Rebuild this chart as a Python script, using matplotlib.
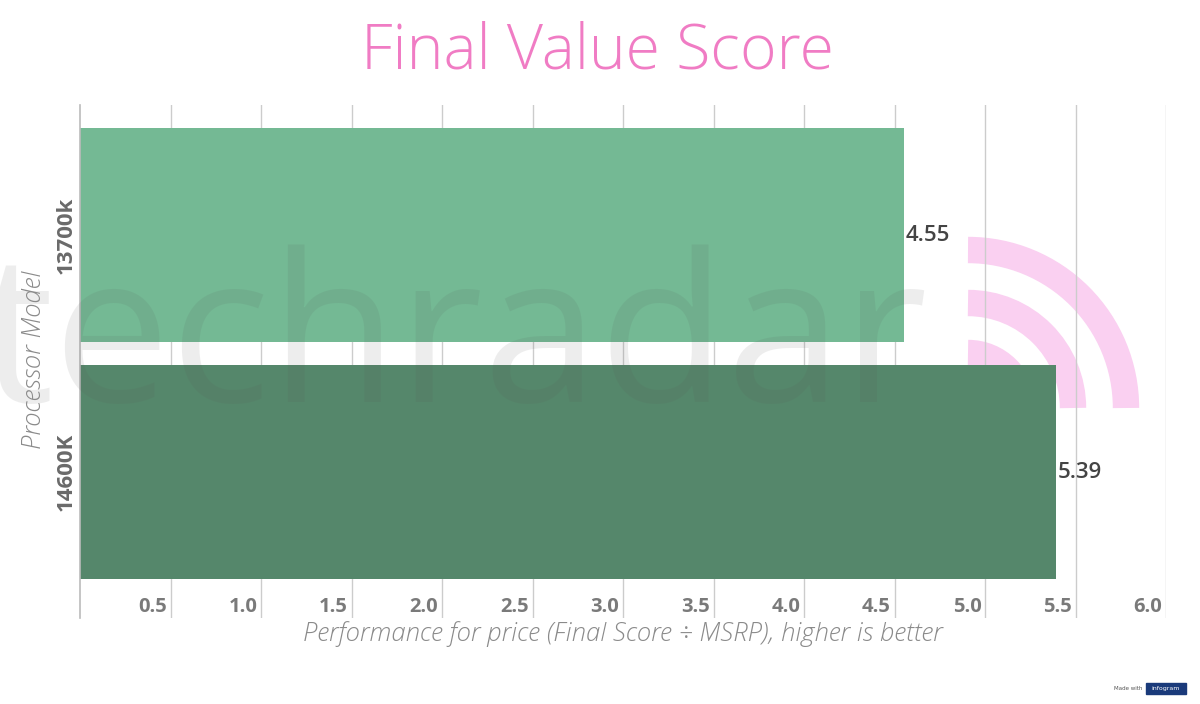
import matplotlib.pyplot as plt
from matplotlib.patches import Arc, Rectangle
from matplotlib.transforms import blended_transform_factory

# data
processors = ['13700k', '14600K']
value_scores = [4.55, 5.39]
bar_colors = ['#74b994', '#55876b']
x_ticks = [0.5, 1.0, 1.5, 2.0, 2.5, 3.0, 3.5, 4.0, 4.5, 5.0, 5.5, 6.0]

W, H = 1200, 704
fig = plt.figure(figsize=(W / 100, H / 100), dpi=100)
fig.patch.set_facecolor('white')

# background overlay (pink watermark arcs, behind the bars)
ax_bg = fig.add_axes([0, 0, 1, 1], zorder=0)
ax_bg.set_xlim(0, W)
ax_bg.set_ylim(H, 0)
ax_bg.axis('off')
for r in [55, 105, 158]:
    ax_bg.add_patch(Arc((968, 408), 2 * r, 2 * r, theta1=270, theta2=360,
                        color='#fad0f1', lw=19))

# main chart axes
left, right = 80 / W, 1166 / W
bottom, top = 1 - 618 / H, 1 - 105 / H
ax = fig.add_axes([left, bottom, right - left, top - bottom], zorder=1)
ax.set_facecolor('none')

ypos = list(range(len(processors)))
ax.barh(ypos, value_scores, height=0.9, color=bar_colors, zorder=2)
ax.set_xlim(0, 6)
ax.set_ylim(1.616, -0.549)

for t in x_ticks:
    ax.axvline(t, color='#cccccc', lw=1, zorder=1)
for s in ['top', 'right', 'bottom']:
    ax.spines[s].set_visible(False)
ax.spines['left'].set_color('#bbbbbb')
ax.spines['left'].set_linewidth(1.2)
ax.set_xticks([])
ax.set_yticks([])

trans = blended_transform_factory(ax.transData, ax.transAxes)
for t in x_ticks:
    ax.text(t - 0.02, 0.0215, f'{t:.1f}', transform=trans, ha='right', va='center',
            fontsize=14.5, fontweight='bold', color='#7a7a7a', family='Open Sans')

for y, v in zip(ypos, value_scores):
    ax.text(v + 0.01, y, f'{v:.2f}', ha='left', va='center', fontsize=16,
            fontweight='semibold', color='#444444', family='Open Sans', zorder=3)

for y, name in zip(ypos, processors):
    ax.text(-0.075, y, name, ha='center', va='center', rotation=90, fontsize=16,
            fontweight='bold', color='#6a6a6a', family='Open Sans')

fig.text(35 / W, 1 - 360 / H, 'Processor Model', rotation=90, ha='center', va='center',
         fontsize=18.5, style='italic', color='#8a8a8a', family='Open Sans', fontweight='light')
fig.text(623 / W, 1 - 634 / H, 'Performance for price (Final Score ÷ MSRP), higher is better',
         ha='center', va='center', fontsize=18.5, style='italic', color='#8a8a8a',
         family='Open Sans', fontweight='light')

fig.text(597 / W, 1 - 52 / H, 'Final Value Score', ha='center', va='center',
         fontsize=45, color='#f07cc4', family='Open Sans', fontweight='light')

# front overlay (grey watermark text)
ax_fg = fig.add_axes([0, 0, 1, 1], zorder=2)
ax_fg.set_xlim(0, W)
ax_fg.set_ylim(H, 0)
ax_fg.axis('off')
ax_fg.text(-20, 402, 'techradar', ha='left', va='baseline', fontsize=150,
           color='#555555', alpha=0.10, family='Open Sans')

# infogram badge
ax_fg.text(1142, 689, 'Made with', ha='right', va='center', fontsize=4, color='#555555')
ax_fg.add_patch(Rectangle((1146, 683), 40, 11, color='#1a3a7a'))
ax_fg.text(1166, 688.5, 'infogram', ha='center', va='center', fontsize=4.5, color='white')

fig.savefig('out.png', dpi=100)
